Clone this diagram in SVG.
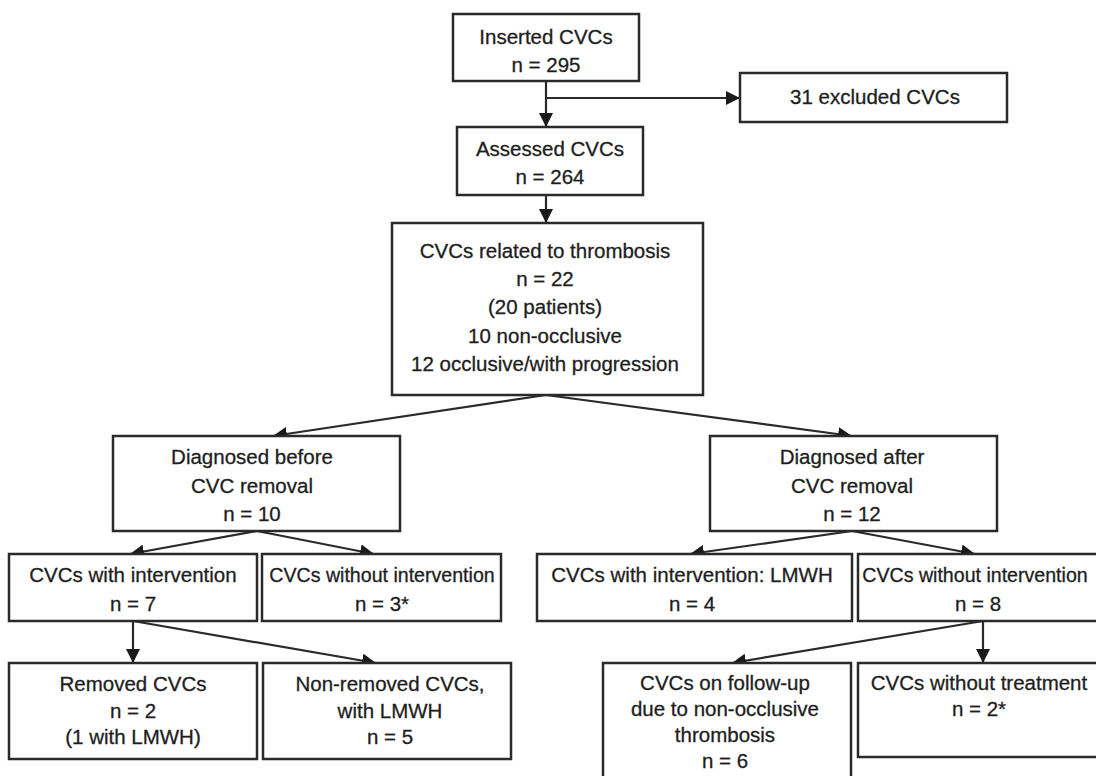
<svg xmlns="http://www.w3.org/2000/svg" width="1096" height="776" viewBox="0 0 1096 776">
<style>
.box{fill:#fff;stroke:#2a2a2a;stroke-width:2.5}
.t{font-family:"Liberation Sans",Arial,sans-serif;font-size:20.5px;fill:#1e1e1e;stroke:#1e1e1e;stroke-width:0.3;text-anchor:middle}
.s{font-size:19.6px}
.c{stroke:#2a2a2a;stroke-width:2.2;fill:none;marker-end:url(#ah)}
</style>
<defs>
<marker id="ah" markerUnits="userSpaceOnUse" markerWidth="14" markerHeight="14" viewBox="0 0 14 14" refX="14" refY="7" orient="auto">
<path d="M0,0 L14,7 L0,14 Z" fill="#1a1a1a"/>
</marker>
</defs>
<rect width="1096" height="776" fill="#fff"/>
<g id="connectors">
<line class="c" x1="546" y1="81" x2="546" y2="127"/>
<line class="c" x1="546" y1="98" x2="740" y2="98"/>
<line class="c" x1="546" y1="195" x2="546" y2="223"/>
<line class="c" x1="546" y1="395" x2="273" y2="436"/>
<line class="c" x1="546" y1="395" x2="852" y2="436"/>
<line class="c" x1="257" y1="531" x2="130" y2="554"/>
<line class="c" x1="257" y1="531" x2="374" y2="554"/>
<line class="c" x1="133" y1="621" x2="133" y2="663"/>
<line class="c" x1="133" y1="621" x2="376" y2="663"/>
<line class="c" x1="852" y1="531" x2="690" y2="554"/>
<line class="c" x1="852" y1="531" x2="975" y2="554"/>
<line class="c" x1="983" y1="621" x2="983" y2="663"/>
<line class="c" x1="983" y1="621" x2="732" y2="663"/>
</g>
<g id="inserted">
<rect class="box" x="453" y="14" width="186" height="67"/>
<text class="t" x="546" y="44">Inserted CVCs</text>
<text class="t" x="546" y="72">n = 295</text>
</g>
<g id="excluded">
<rect class="box" x="740" y="73" width="267" height="49"/>
<text class="t" x="875" y="104">31 excluded CVCs</text>
</g>
<g id="assessed">
<rect class="box" x="457" y="127" width="186" height="68"/>
<text class="t" x="550" y="156">Assessed CVCs</text>
<text class="t" x="550" y="184">n = 264</text>
</g>
<g id="thrombosis">
<rect class="box" x="392" y="223" width="311" height="172"/>
<text class="t" x="545" y="258">CVCs related to thrombosis</text>
<text class="t" x="545" y="286">n = 22</text>
<text class="t" x="545" y="314">(20 patients)</text>
<text class="t" x="545" y="343">10 non-occlusive</text>
<text class="t" x="545" y="371">12 occlusive/with progression</text>
</g>
<g id="before">
<rect class="box" x="113" y="436" width="287" height="95"/>
<text class="t" x="252" y="464">Diagnosed before</text>
<text class="t" x="252" y="493">CVC removal</text>
<text class="t" x="252" y="521">n = 10</text>
</g>
<g id="after">
<rect class="box" x="710" y="436" width="287" height="95"/>
<text class="t" x="852" y="464">Diagnosed after</text>
<text class="t" x="852" y="493">CVC removal</text>
<text class="t" x="852" y="521">n = 12</text>
</g>
<g id="with-int">
<rect class="box" x="9" y="554" width="248" height="67"/>
<text class="t" x="133" y="582">CVCs with intervention</text>
<text class="t" x="133" y="611">n = 7</text>
</g>
<g id="without-int">
<rect class="box" x="262" y="554" width="239" height="67"/>
<text class="t s" x="382" y="582">CVCs without intervention</text>
<text class="t" x="382" y="611">n = 3*</text>
</g>
<g id="with-lmwh">
<rect class="box" x="537" y="554" width="315" height="67"/>
<text class="t" x="692" y="582">CVCs with intervention: LMWH</text>
<text class="t" x="692" y="611">n = 4</text>
</g>
<g id="without-int-2">
<rect class="box" x="858" y="554" width="250" height="67"/>
<text class="t s" x="975" y="582">CVCs without intervention</text>
<text class="t" x="978" y="611">n = 8</text>
</g>
<g id="removed">
<rect class="box" x="9" y="663" width="248" height="96"/>
<text class="t" x="133" y="691">Removed CVCs</text>
<text class="t" x="133" y="718">n = 2</text>
<text class="t" x="133" y="744">(1 with LMWH)</text>
</g>
<g id="non-removed">
<rect class="box" x="263" y="663" width="248" height="96"/>
<text class="t" x="390" y="691">Non-removed CVCs,</text>
<text class="t" x="390" y="718">with LMWH</text>
<text class="t" x="390" y="744">n = 5</text>
</g>
<g id="follow-up">
<rect class="box" x="603" y="663" width="248" height="120"/>
<text class="t" x="725" y="690">CVCs on follow-up</text>
<text class="t" x="725" y="716">due to non-occlusive</text>
<text class="t" x="725" y="742">thrombosis</text>
<text class="t" x="725" y="768">n = 6</text>
</g>
<g id="no-treatment">
<rect class="box" x="858" y="663" width="250" height="94"/>
<text class="t" x="979" y="690">CVCs without treatment</text>
<text class="t" x="979" y="716">n = 2*</text>
</g>
</svg>
